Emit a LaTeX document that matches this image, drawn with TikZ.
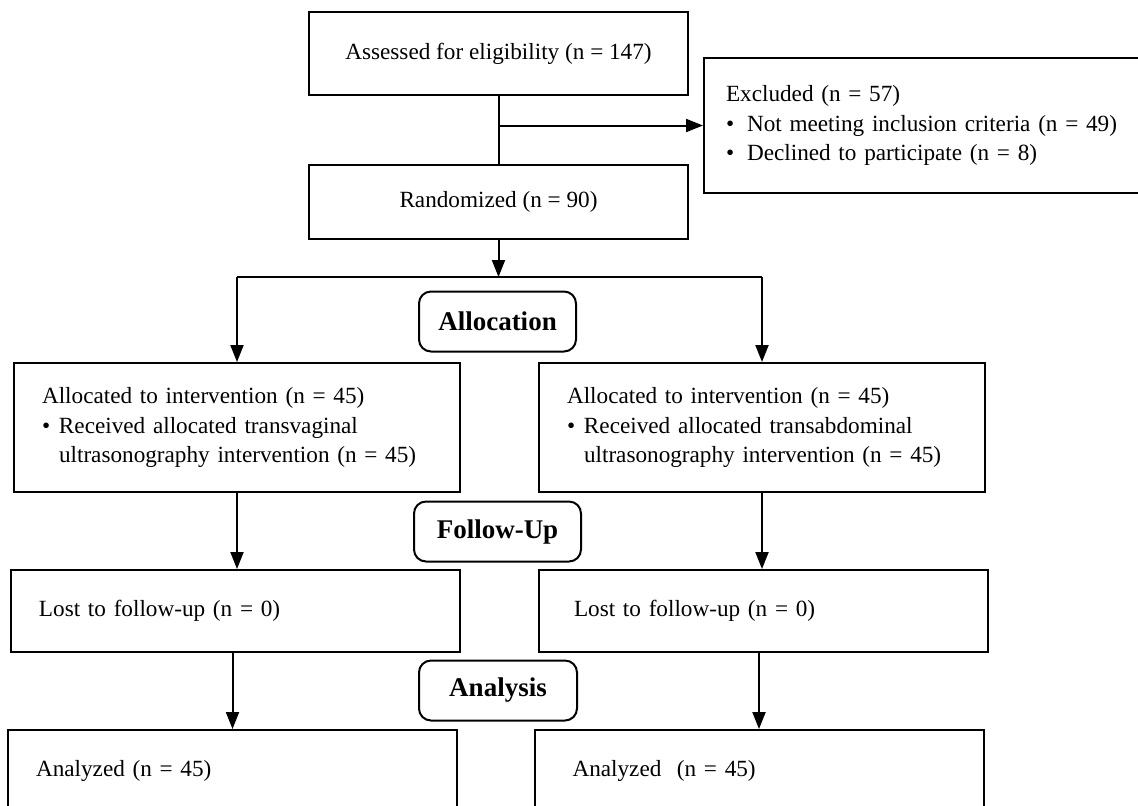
\documentclass[tikz,border=0pt]{standalone}
\usepackage{fontspec}
\setmainfont{Liberation Serif}
\usetikzlibrary{arrows.meta}

\begin{document}
\begin{tikzpicture}[x=0.5pt, y=-0.5pt,
  every node/.style={font=\fontsize{11.6}{14.75}\selectfont},
  box/.style 2 args={draw, line width=1pt, align=left, inner xsep=14pt,
    text width=#1, minimum height=#2},
  cbox/.style={draw, line width=1pt, align=center, minimum width=189.5pt},
  stage/.style={draw, line width=1pt, rounded corners=6pt,
    font=\bfseries\fontsize{13.5}{16}\selectfont, minimum height=30pt},
  arr/.style={line width=1pt, -{Triangle[length=8.5pt,width=6.5pt]}},
  ln/.style={line width=1pt}]
\path[use as bounding box, clip] (0,0) rectangle (1138,805);

% enrollment
\node[cbox, minimum height=41.5pt] (assess) at (498.5,53.5) {Assessed for eligibility (n = 147)};
\node[cbox, minimum height=37pt] (rand) at (498.5,202) {Randomized (n = 90)};
\node[box={215pt}{67.5pt}, inner xsep=11pt] (excl) at (941,125.5)
  {Excluded (n = 57)\\
   \makebox[10.5pt][l]{\textbullet}Not meeting inclusion criteria (n = 49)\\
   \makebox[10.5pt][l]{\textbullet}Declined to participate (n = 8)};

% stages
\node[stage, minimum width=78.5pt] (alloc) at (497.5,321.5) {Allocation};
\node[stage, minimum width=83.5pt] (follow) at (497.5,531.5) {Follow-Up};
\node[stage, minimum width=79pt] (analysis) at (498,690.5) {Analysis};

% two arms
\node[box={195pt}{64.5pt}] (allocL) at (237,427.5)
  {Allocated to intervention (n = 45)\\
   \makebox[8.5pt][l]{\textbullet}Received allocated transvaginal\\
   \hspace*{8.5pt}ultrasonography intervention (n = 45)};
\node[box={195pt}{64.5pt}] (allocR) at (762,427.5)
  {Allocated to intervention (n = 45)\\
   \makebox[8.5pt][l]{\textbullet}Received allocated transabdominal\\
   \hspace*{8.5pt}ultrasonography intervention (n = 45)};
\node[box={196.5pt}{41pt}] (lostL) at (235.5,611) {\raisebox{-3pt}{Lost to follow-up (n = 0)}};
\node[box={189.5pt}{41pt}, inner xsep=17.5pt] (lostR) at (763.5,611) {\raisebox{-3pt}{Lost to follow-up (n = 0)}};
\node[box={196.5pt}{41pt}] (anaL) at (232.5,771) {Analyzed (n = 45)};
\node[box={186.5pt}{41pt}, inner xsep=19pt] (anaR) at (759,771) {Analyzed\ \ (n = 45)};

% connectors
\coordinate (fork) at (498.5,277);
\draw[ln] (assess) -- (rand);
\draw[arr] (assess.south |- excl.west) -- (excl.west);
\draw[arr] (rand) -- (fork);
\draw[ln] (allocL |- fork) -- (allocR |- fork);
\draw[arr] (allocL |- fork) -- (allocL);
\draw[arr] (allocR |- fork) -- (allocR);
\draw[arr] (allocL) -- (allocL |- lostL.north);
\draw[arr] (allocR) -- (allocR |- lostR.north);
\draw[arr] (anaL.north |- lostL.south) -- (anaL.north);
\draw[arr] (anaR.north |- lostR.south) -- (anaR.north);
\end{tikzpicture}
\end{document}
